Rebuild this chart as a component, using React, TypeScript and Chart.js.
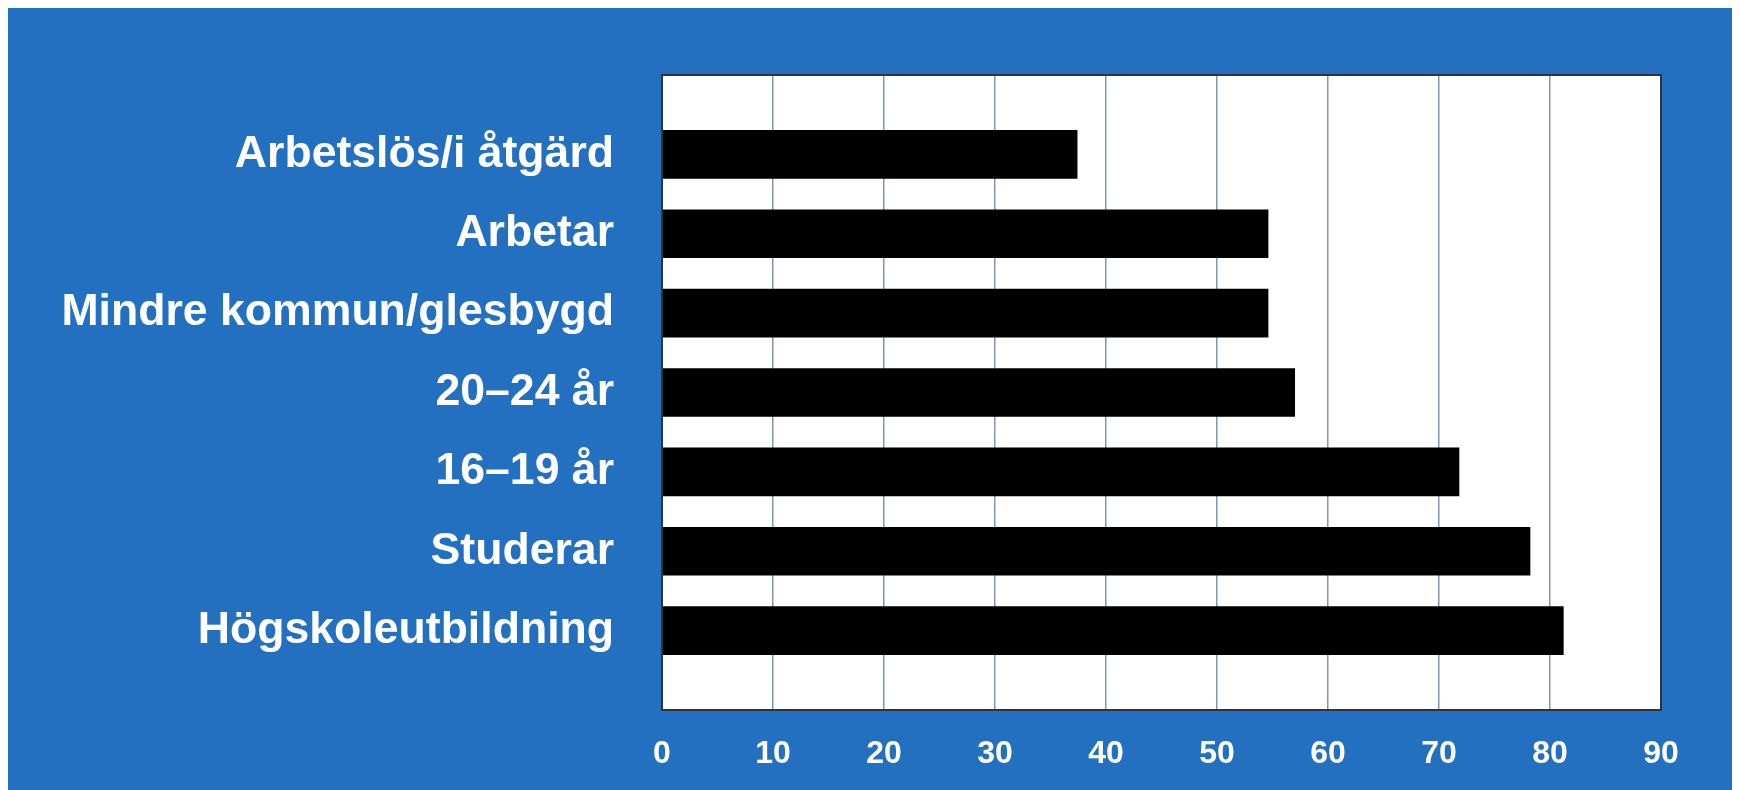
import React, { useEffect, useRef } from "react";
import { Chart, registerables } from "chart.js";

Chart.register(...registerables);

const categories: string[] = [
  "Arbetslös/i åtgärd",
  "Arbetar",
  "Mindre kommun/glesbygd",
  "20–24 år",
  "16–19 år",
  "Studerar",
  "Högskoleutbildning",
];
const values: number[] = [37.4, 54.6, 54.6, 57.0, 71.8, 78.2, 81.2];
const xTicks: number[] = [0, 10, 20, 30, 40, 50, 60, 70, 80, 90];

const BLUE = "#2470C0";

const plotFrame = {
  id: "plotFrame",
  beforeDraw(chart: any) {
    const { ctx, chartArea } = chart;
    ctx.save();
    ctx.fillStyle = "#ffffff";
    ctx.fillRect(chartArea.left, chartArea.top, chartArea.right - chartArea.left, chartArea.bottom - chartArea.top);
    ctx.restore();
  },
  afterDraw(chart: any) {
    const { ctx, chartArea } = chart;
    ctx.save();
    ctx.strokeStyle = "#2b3440";
    ctx.lineWidth = 2;
    ctx.strokeRect(chartArea.left, chartArea.top, chartArea.right - chartArea.left, chartArea.bottom - chartArea.top);
    ctx.restore();
  },
};

export default function App() {
  const ref = useRef<HTMLCanvasElement | null>(null);

  useEffect(() => {
    if (!ref.current) return;
    const labels = ["", ...categories, ""];
    const data = [null, ...values, null];
    const chart = new Chart(ref.current, {
      type: "bar",
      data: {
        labels,
        datasets: [
          {
            data,
            backgroundColor: "#000000",
            borderWidth: 0,
            barThickness: 48,
          },
        ],
      },
      options: {
        indexAxis: "y",
        animation: false,
        responsive: false,
        maintainAspectRatio: false,
        layout: { padding: { top: 67, right: 79, bottom: 0, left: 0 } },
        plugins: { legend: { display: false }, tooltip: { enabled: false } },
        scales: {
          x: {
            type: "linear",
            min: 0,
            max: 90,
            afterFit: (s: any) => {
              s.height = 80;
            },
            afterBuildTicks: (s: any) => {
              s.ticks = xTicks.map((v) => ({ value: v }));
            },
            grid: {
              color: "#8296ae",
              lineWidth: 1.5,
              drawTicks: false,
            },
            border: { display: false },
            ticks: {
              color: "#ffffff",
              padding: 25,
              font: { family: "Liberation Sans", size: 32, weight: "bold" },
            },
          },
          y: {
            type: "category",
            offset: false,
            afterFit: (s: any) => {
              s.width = 654;
              s.paddingTop = 0;
              s.paddingBottom = 0;
            },
            grid: { display: false, drawTicks: false },
            border: { display: false },
            ticks: {
              autoSkip: false,
              color: "#ffffff",
              padding: 48,
              font: { family: "Liberation Sans", size: 44.6, weight: "bold" },
            },
          },
        },
      },
      plugins: [plotFrame],
    } as any);
    return () => chart.destroy();
  }, []);

  return (
    <div style={{ width: 1732, height: 782, background: BLUE }}>
      <canvas ref={ref} width={1732} height={782} style={{ display: "block" }} />
    </div>
  );
}
